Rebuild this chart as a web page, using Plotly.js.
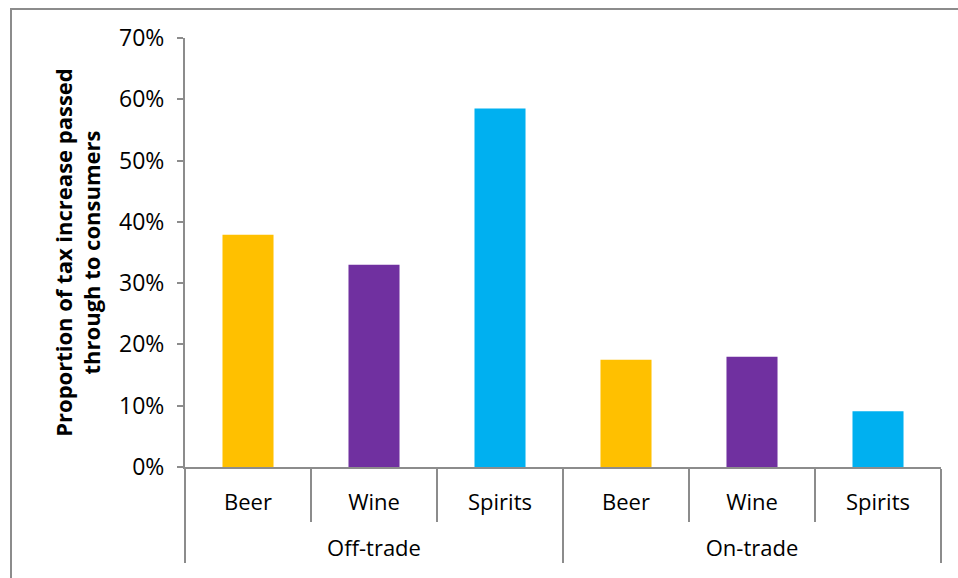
<!DOCTYPE html>
<html>
<head>
<meta charset="utf-8">
<script src="https://cdn.plot.ly/plotly-3.0.1.min.js"></script>
<style>
  html, body { margin: 0; padding: 0; background: #ffffff; }
  #wrap { position: relative; width: 958px; height: 578px; overflow: hidden; }
  #frame { position: absolute; left: 10px; top: 8px; width: 1000px; height: 1000px;
           border-left: 2px solid #8c8c8c; border-top: 2px solid #8c8c8c; box-sizing: border-box; }
  #chart { position: absolute; left: 0; top: 0; width: 958px; height: 578px; }
</style>
</head>
<body>
<div id="wrap">
  <div id="frame"></div>
  <div id="chart"></div>
</div>
<script>
// ---- data ----
var groups = ["Off-trade", "Off-trade", "Off-trade", "On-trade", "On-trade", "On-trade"];
var drinks = ["Beer", "Wine", "Spirits", "Beer", "Wine", "Spirits"];
var passThrough = [0.379, 0.330, 0.585, 0.175, 0.180, 0.091];
var drinkColors = { "Beer": "#FFC000", "Wine": "#7030A0", "Spirits": "#00B0F0" };
var yTitle = "Proportion of tax increase passed<br>through to consumers";

var FONT = "Open Sans, Lato, sans-serif";
var AXIS = "#8c8c8c";

// group labels sit one text line lower than the category row
var groupLabels = groups.map(function (g) { return "<br>" + g; });

var trace = {
  type: "bar",
  x: [groupLabels, drinks],
  y: passThrough,
  marker: { color: drinks.map(function (d) { return drinkColors[d]; }) },
  hoverinfo: "x+y"
};

var layout = {
  width: 958,
  height: 578,
  margin: { l: 185, r: 17, t: 38, b: 111 },
  paper_bgcolor: "rgba(0,0,0,0)",
  plot_bgcolor: "rgba(0,0,0,0)",
  showlegend: false,
  bargap: 0.595,
  font: { family: FONT, size: 22, color: "#000000" },
  xaxis: {
    type: "multicategory",
    showline: true,
    linecolor: AXIS,
    linewidth: 2,
    ticks: "outside",
    tickson: "boundaries",
    ticklen: 53,
    tickcolor: AXIS,
    tickwidth: 2,
    ticklabelstandoff: 15,
    showdividers: true,
    dividercolor: AXIS,
    dividerwidth: 2,
    showgrid: false,
    zeroline: false,
    tickfont: { family: FONT, size: 22, color: "#000000" }
  },
  yaxis: {
    range: [0, 0.7],
    dtick: 0.1,
    tickformat: ".0%",
    showline: true,
    linecolor: AXIS,
    linewidth: 2,
    ticks: "outside",
    ticklen: 6,
    tickcolor: AXIS,
    tickwidth: 2,
    ticklabelstandoff: 8,
    showgrid: false,
    zeroline: false,
    tickfont: { family: FONT, size: 23, color: "#000000" },
    title: {
      text: yTitle,
      font: { family: FONT, size: 22, color: "#000000", weight: "bold" },
      standoff: 12
    }
  }
};

Plotly.newPlot("chart", [trace], layout, { displayModeBar: false, staticPlot: true });
</script>
</body>
</html>
